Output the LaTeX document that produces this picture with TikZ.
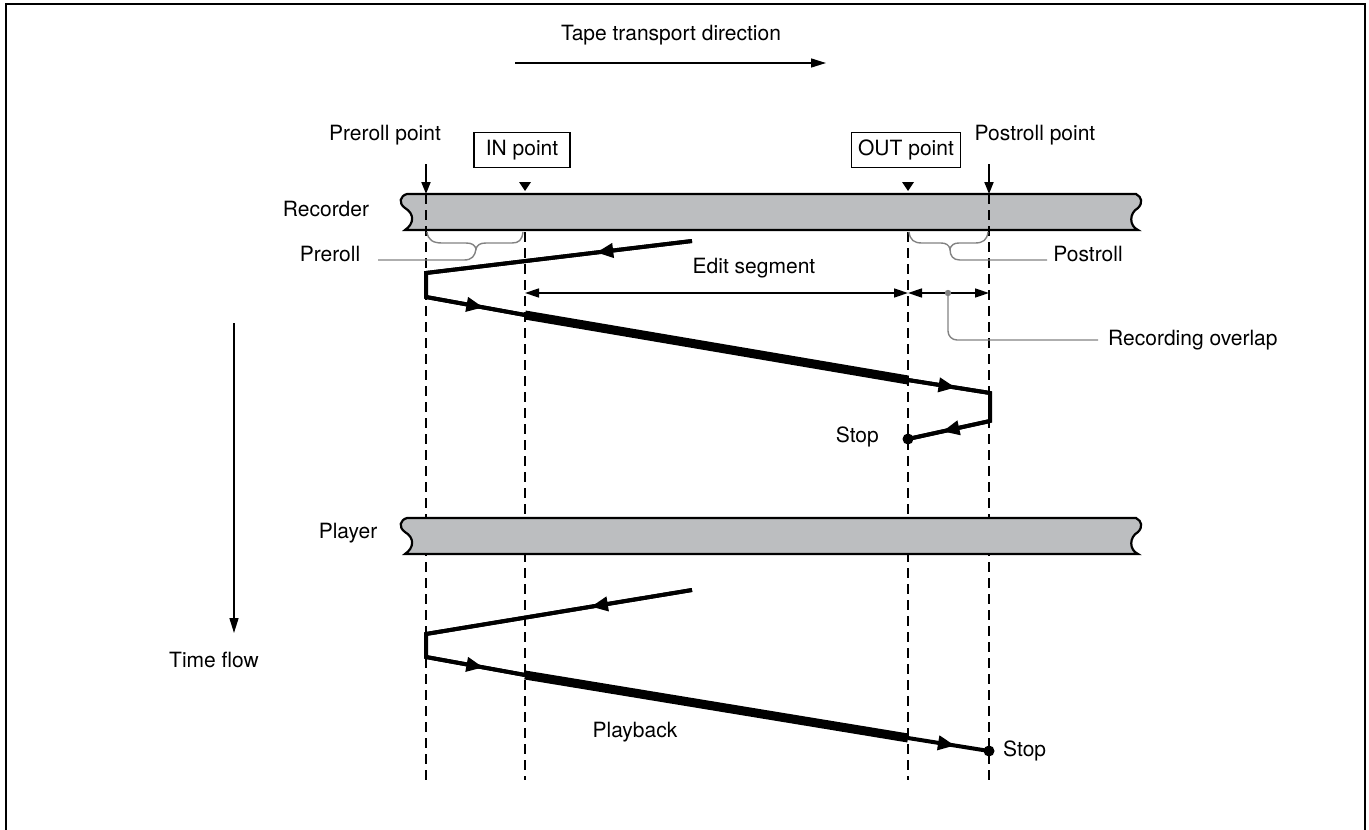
\documentclass[tikz,border=0pt]{standalone}
\usepackage{fontspec}
\setmainfont{TeX Gyre Heros}
\usetikzlibrary{arrows.meta,decorations.markings}
\definecolor{tapegray}{RGB}{188,190,192}
\definecolor{leadgray}{RGB}{130,130,130}
\begin{document}
\begin{tikzpicture}[x=1pt,y=-1pt,
  font=\fontsize{21}{25}\selectfont,
  txt/.style={inner sep=0pt, anchor=center},
  boxlbl/.style={draw, line width=1.2pt, inner sep=0pt, minimum height=35pt, anchor=center},
  tape/.style={fill=tapegray, draw=black, line width=2.2pt},
  guide/.style={line width=1.6pt, dash pattern=on 10pt off 6pt},
  paththin/.style={line width=4pt, line join=miter},
  paththick/.style={line width=9pt, line cap=butt},
  midarrow/.style={postaction={decorate}, decoration={markings, mark=at position #1 with {\arrow{Triangle[length=17pt,width=14pt]}}}},
  pointer/.style={line width=1.8pt, -{Triangle[length=12pt,width=9pt]}},
  dimline/.style={line width=1.5pt, {Triangle[length=14pt,width=9pt]}-{Triangle[length=14pt,width=9pt]}},
  lead/.style={draw=leadgray, line width=1.4pt},
  marker/.style={fill=black, draw=none}
]
\useasboundingbox (0,0) rectangle (1369,830);
% frame
\draw[line width=2pt] (6,845) -- (6,4) -- (1365,4) -- (1365,845);

% tape transport direction
\node[txt] (ttd) at (671,35) {Tape transport direction};
\coordinate (ttdA) at (515,63);
\coordinate (ttdB) at (826,63);
\draw[line width=1.5pt, -{Triangle[length=15pt,width=9pt]}] (ttdA) -- (ttdB);

% recorder tape
\draw[tape] (407,194) -- (1136,194) .. controls (1142,197) and (1143,203) .. (1138,208) .. controls (1129,213) and (1129,226) .. (1138,230) -- (405,230) .. controls (414,224) and (415,214) .. (405,208) .. controls (398,203) and (400,196) .. (407,194) -- cycle;
\node[txt] (rec) at (326,209) {Recorder};

% guide coordinates
\coordinate (preT) at (426,194);
\coordinate (preB) at (426,780);
\coordinate (inT) at (525,232);
\coordinate (inB) at (525,780);
\coordinate (outT) at (908,232);
\coordinate (outB) at (908,780);
\coordinate (postT) at (989,194);
\coordinate (postB) at (989,780);
\draw[guide] (preT) -- (preB);
\draw[guide] (inT) -- (inB);
\draw[guide] (outT) -- (outB);
\draw[guide] (postT) -- (postB);

% player tape
\draw[tape] (407,518) -- (1136,518) .. controls (1142,521) and (1143,527) .. (1138,532) .. controls (1129,537) and (1129,550) .. (1138,554) -- (405,554) .. controls (414,548) and (415,538) .. (405,532) .. controls (398,527) and (400,520) .. (407,518) -- cycle;
\node[txt] (ply) at (348,533) {Player};

% top labels
\node[txt] (prept) at (385,135) {Preroll point};
\node[txt] (postpt) at (1035,135) {Postroll point};
\node[boxlbl, minimum width=96pt] (inpt) at (522,150) {IN point};
\node[boxlbl, minimum width=109pt] (outpt) at (906,150) {OUT point};
\coordinate (preA) at (426,164);
\coordinate (postA) at (989,164);
\draw[pointer] (preA) -- (preT);
\draw[pointer] (postA) -- (postT);
\fill[marker] (519,182) -- (531,182) -- (525,191) -- cycle;
\fill[marker] (902,182) -- (914,182) -- (908,191) -- cycle;

% braces
\draw[lead] (427,232) .. controls (428,240) and (433,243) .. (442,243) -- (466,243) .. controls (472,243) and (475,245) .. (476,249) .. controls (477,245) and (480,243) .. (486,243) -- (512,243) .. controls (519,243) and (522,240) .. (523,232);
\coordinate (preTip) at (476,249);
\coordinate (preLead) at (378,260);
\draw[lead] (preTip) .. controls (475,256) and (472,260) .. (464,260) -- (preLead);
\node[txt] (prerl) at (330,254) {Preroll};

\draw[lead] (909,232) .. controls (910,240) and (914,243) .. (922,243) -- (941,243) .. controls (946,243) and (949,245) .. (950,249) .. controls (951,245) and (954,243) .. (959,243) -- (975,243) .. controls (983,243) and (987,240) .. (988,232);
\coordinate (postTip) at (950,249);
\coordinate (postLead) at (1047,260);
\draw[lead] (postTip) .. controls (950,256) and (953,260) .. (960,260) -- (postLead);
\node[txt] (postrl) at (1088,254) {Postroll};

% edit segment and overlap
\node[txt] (editlbl) at (754,268) {Edit segment};
\coordinate (eA) at (525,293);
\coordinate (eB) at (908,293);
\coordinate (oB) at (989,293);
\draw[dimline] (eA) -- (eB);
\draw[dimline] (eB) -- (oB);
\coordinate (ovDot) at (948,293);
\coordinate (ovEnd) at (1098,340);
\fill[leadgray] (ovDot) circle (3.2pt);
\draw[lead, rounded corners=9pt] (ovDot) -- (948,340) -- (ovEnd);
\node[txt, anchor=west] (ovlbl) at (1108,340) {Recording overlap};

% recorder path
\coordinate (r0) at (692,241);
\coordinate (r1) at (426,273);
\coordinate (r2) at (426,297);
\coordinate (r3) at (525,315);
\coordinate (r4) at (908,380);
\coordinate (r5) at (990,393);
\coordinate (r6) at (990,421);
\coordinate (r7) at (908,439);
\draw[paththin, midarrow=0.36] (r0) -- (r1);
\draw[paththin] (r0) -- (r1) -- (r2) -- (r3);
\draw[paththin, midarrow=0.58] (r2) -- (r3);
\draw[paththick] (r3) -- (r4);
\draw[paththin] (r4) -- (r5) -- (r6) -- (r7);
\draw[paththin, midarrow=0.58] (r4) -- (r5);
\draw[paththin, midarrow=0.58] (r6) -- (r7);
\fill (r7) circle (5.5pt);
\node[txt, anchor=east] (stop1) at (879,437) {Stop};

% player path
\coordinate (p0) at (692,590);
\coordinate (p1) at (426,634);
\coordinate (p2) at (426,657);
\coordinate (p3) at (525,675);
\coordinate (p4) at (908,738);
\coordinate (p5) at (989,751);
\draw[paththin, midarrow=0.38] (p0) -- (p1);
\draw[paththin] (p0) -- (p1) -- (p2) -- (p3);
\draw[paththin, midarrow=0.58] (p2) -- (p3);
\draw[paththick] (p3) -- (p4);
\draw[paththin, midarrow=0.58] (p4) -- (p5);
\fill (p5) circle (5.5pt);
\node[txt, anchor=west] (stop2) at (1003,751) {Stop};
\node[txt] (pb) at (635,732) {Playback};

% time flow
\coordinate (tfA) at (234,323);
\coordinate (tfB) at (234,633);
\draw[line width=1.5pt, -{Triangle[length=15pt,width=9pt]}] (tfA) -- (tfB);
\node[txt] (tf) at (214,660) {Time flow};
\end{tikzpicture}
\end{document}
